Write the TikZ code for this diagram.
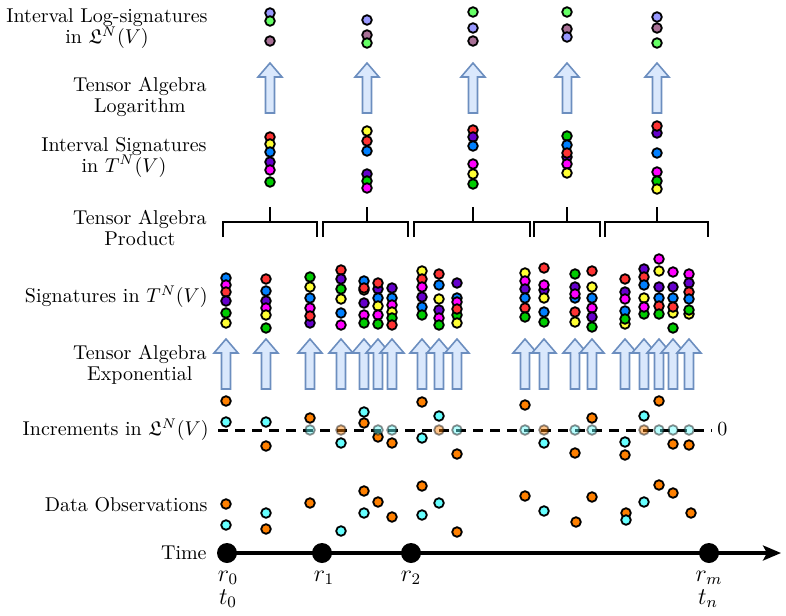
\documentclass[tikz,border=0pt]{standalone}
\usepackage{amssymb}
\usetikzlibrary{arrows.meta}
\definecolor{cb}{RGB}{0,128,255}
\definecolor{cm}{RGB}{255,0,255}
\definecolor{cr}{RGB}{255,51,51}
\definecolor{cp}{RGB}{102,0,204}
\definecolor{cg}{RGB}{0,204,0}
\definecolor{cy}{RGB}{255,255,51}
\definecolor{ll}{RGB}{153,153,255}
\definecolor{lg}{RGB}{102,255,102}
\definecolor{lm}{RGB}{168,112,150}
\definecolor{co}{RGB}{255,128,0}
\definecolor{cc}{RGB}{102,255,255}
\definecolor{arrowfill}{RGB}{218,232,252}
\definecolor{arrowedge}{RGB}{108,142,191}
\begin{document}
\begin{tikzpicture}[x=0.5pt,y=-0.5pt,
  lab/.style={align=center, inner sep=0pt, font=\fontsize{10}{10.5}\selectfont},
  sdot/.style={draw=black, line width=0.9pt},
  ghost/.style={draw=black, line width=0.9pt, opacity=0.45},
  barrow/.style={draw=arrowedge, fill=arrowfill, line width=0.8pt, line join=miter},
  brk/.style={line width=1.35pt, line join=miter, line cap=butt},
  dashline/.style={line width=1.5pt, dash pattern=on 5pt off 3.5pt},
  axisline/.style={line width=1.6pt, -{Stealth[length=9pt,width=7.5pt,inset=2pt]}},
  bigdot/.style={circle, fill=black, minimum size=10pt, inner sep=0pt},
  tlab/.style={inner sep=0pt, anchor=base, font=\large},
  blockarrow/.pic={\draw[barrow] (-4.5,0) -- (-4.5,-36) -- (-12,-36) -- (0,-50) -- (12,-36) -- (4.5,-36) -- (4.5,0) -- cycle;}
]
\useasboundingbox (0,0) rectangle (786,615);

% ---- row labels
\node[lab, anchor=east] (llog) at (208,29) {Interval Log-signatures\\in $\mathfrak{L}^N(V)$};
\node[lab, anchor=east] (llogarithm) at (207,97) {Tensor Algebra\\Logarithm};
\node[lab, anchor=east] (lisig) at (207,157) {Interval Signatures\\in $T^N(V)$};
\node[lab, anchor=east] (lprod) at (207,228) {Tensor Algebra\\Product};
\node[lab, anchor=east] (lsig) at (208,297) {Signatures in $T^N(V)$};
\node[lab, anchor=east] (lexp) at (207,365) {Tensor Algebra\\Exponential};
\node[lab, anchor=east] (linc) at (209,430) {Increments in $\mathfrak{L}^N(V)$};
\node[lab, anchor=east] (ldata) at (208,505) {Data Observations};
\node[lab, anchor=east] (ltime) at (207,553) {Time};

% ---- log-signature row
\foreach \px/\py/\c in {270/13/ll,270/21/lg,270/41/lm,
  367/20/ll,367/35/lm,367/43/lg,
  473/12/lg,473/28/ll,473/41/lm,
  567/12/lg,567/29/lm,567/37/ll,
  657/17/ll,657/28/lm,657/43/lg}
  {\draw[sdot, fill=\c] (\px,\py) circle[radius=2.4pt];}

% ---- logarithm arrows
\foreach \px in {270,367,473,567,657}
  {\pic at (\px,113) {blockarrow};}

% ---- interval signatures
\foreach \px/\py/\c in {270/137/cr,270/144/cy,270/152/cb,270/162/cp,270/170/cm,270/182/cg,
  367/131/cy,367/141/cr,367/151/cb,367/174/cp,367/181/cg,367/188/cm,
  473/130/cr,473/137/cp,473/146/cb,473/164/cm,473/174/cy,473/184/cg,
  567/136/cg,567/145/cb,567/157/cp,567/153/cr,567/164/cm,567/173/cy,
  657/133/cp,657/126/cr,657/153/cb,657/172/cm,657/181/cg,657/189/cy}
  {\draw[sdot, fill=\c] (\px,\py) circle[radius=2.4pt];}

% ---- product brackets
\foreach \a/\b/\m in {223/317/270, 323/408/367, 414/530/473, 534/600/567, 605/708/657}
  {\draw[brk] (\a,237) -- (\a,222) -- (\b,222) -- (\b,237);
   \draw[brk] (\m,222) -- (\m,207);}

% ---- signatures
\foreach \px/\py/\c in {
  226/278/cb,226/285/cm,226/292/cr,226/301/cp,226/313/cg,226/323/cy,
  266/279/cr,266/291/cb,266/301/cp,266/308/cm,266/315/cy,266/328/cg,
  310/277/cg,310/287/cy,310/298/cb,310/308/cm,310/323/cp,310/316/cr,
  341/270/cr,341/279/cp,341/289/cg,341/299/cy,341/313/cb,341/325/cm,
  364/281/cb,364/290/cy,364/288/cr,364/303/cp,364/315/cm,364/323/cg,
  378/289/cp,378/283/cr,378/298/cb,378/306/cy,378/315/cm,378/324/cg,
  392/288/cp,392/298/cb,392/305/cm,392/312/cy,392/318/cg,392/325/cr,
  422/271/cy,422/279/cr,422/287/cm,422/297/cp,422/307/cb,422/315/cg,
  439/274/cr,439/285/cb,439/299/cy,439/310/cp,439/318/cm,439/325/cg,
  457/283/cp,457/298/cb,457/315/cg,457/302/cm,457/309/cr,457/323/cy,
  525/273/cy,525/281/cm,525/289/cp,525/298/cb,525/308/cr,525/317/cg,
  544/268/cr,544/290/cp,544/285/cm,544/298/cy,544/312/cb,544/322/cg,
  575/274/cg,575/287/cp,575/298/cb,575/294/cm,575/312/cr,575/322/cy,
  592/271/cr,592/287/cy,592/298/cb,592/308/cm,592/317/cp,592/327/cg,
  625/279/cr,625/292/cp,625/299/cm,625/311/cb,625/324/cy,625/319/cg,
  644/269/cp,644/277/cr,644/285/cb,644/298/cy,644/314/cg,644/307/cm,
  659/259/cm,659/271/cy,659/287/cp,659/298/cb,659/306/cr,659/314/cg,
  673/272/cm,673/287/cp,673/298/cb,673/313/cy,673/307/cr,673/328/cg,
  689/274/cm,689/283/cp,689/292/cr,689/299/cb,689/314/cy,689/310/cg}
  {\draw[sdot, fill=\c] (\px,\py) circle[radius=2.4pt];}

% ---- exponential arrows
\foreach \px in {226,266,310,341,364,378,392,422,439,457,525,544,575,592,625,644,659,673,689}
  {\pic at (\px,389) {blockarrow};}

% ---- increments
\coordinate (dashstart) at (218,430);
\node[inner sep=0pt, anchor=west] (zero) at (717,429) {0};
\coordinate (dashend) at (712,430);
\draw[dashline] (dashstart) -- (dashend);
\foreach \px/\py/\c in {226/401/co,226/422/cc,266/422/cc,266/446/co,
  310/418/co,341/443/cc,364/412/cc,364/423/co,378/437/co,392/443/co,
  422/402/co,422/438/cc,439/416/cc,457/454/co,
  525/405/co,544/443/cc,575/453/co,592/418/co,625/442/cc,625/455/co,
  644/416/cc,659/401/co,673/444/co,689/445/co}
  {\draw[sdot, fill=\c] (\px,\py) circle[radius=2.4pt];}
\foreach \px/\c in {310/cc,341/co,378/cc,392/cc,439/co,457/cc,525/cc,544/co,575/cc,592/cc,644/co,659/cc,673/cc,689/cc}
  {\draw[ghost, fill=\c] (\px,430) circle[radius=2.4pt];}

% ---- data observations
\foreach \px/\py/\c in {226/504/co,226/525/cc,266/513/cc,266/529/co,310/503/co,341/531/cc,
  364/491/co,364/513/cc,378/502/co,392/517/co,422/486/co,422/515/cc,439/503/cc,457/532/co,
  525/496/co,544/511/cc,576/522/co,592/497/co,626/513/co,626/520/cc,644/502/cc,
  659/485/co,673/493/co,691/513/co}
  {\draw[sdot, fill=\c] (\px,\py) circle[radius=2.4pt];}

% ---- time axis
\node[bigdot] (r0) at (227,553) {};
\node[bigdot] (r1) at (322,553) {};
\node[bigdot] (r2) at (411,553) {};
\node[bigdot] (rm) at (709,553) {};
\coordinate (axisend) at (781,553);
\draw[axisline] (r0.center) -- (axisend);
\node[tlab] (lr0) at (228,581) {$r_0$};
\node[tlab] (lt0) at (228,604) {$t_0$};
\node[tlab] (lr1) at (324,581) {$r_1$};
\node[tlab] (lr2) at (411,581) {$r_2$};
\node[tlab] (lrm) at (709,581) {$r_m$};
\node[tlab] (ltn) at (708,604) {$t_n$};
\end{tikzpicture}
\end{document}
